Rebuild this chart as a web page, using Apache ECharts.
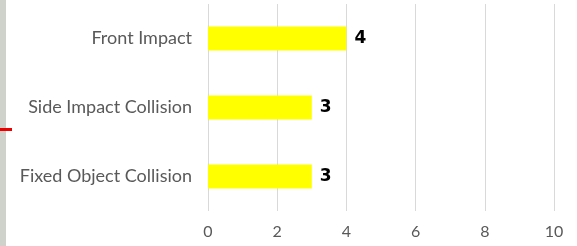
<!DOCTYPE html>
<html>
<head>
<meta charset="utf-8">
<script src="https://cdn.jsdelivr.net/npm/echarts@6/dist/echarts.min.js"></script>
<style>
html, body { margin: 0; padding: 0; background: #fff; }
#main { width: 577px; height: 246px; }
</style>
</head>
<body>
<div id="main"></div>
<script>
var categories = ['Fixed Object Collision', 'Side Impact Collision', 'Front Impact'];
var counts = [3, 3, 4];
var tickMin = 0;
var tickMax = 10;
var tickStep = 2;

var myChart = echarts.init(document.getElementById('main'));
var option = {
	animation: false,
	grid: {
		left: 208,
		right: 23,
		top: 4,
		bottom: 35
	},
	xAxis: {
		type: 'value',
		min: tickMin,
		max: tickMax,
		interval: tickStep,
		axisLine: { show: false },
		axisTick: { show: false },
		splitLine: { lineStyle: { color: '#d9d9d9', width: 1 } },
		axisLabel: {
			color: '#595959',
			fontFamily: 'Lato',
			fontSize: 16,
			margin: 13
		}
	},
	yAxis: {
		type: 'category',
		data: categories,
		axisLine: { show: false },
		axisTick: { show: false },
		axisLabel: {
			color: '#595959',
			fontFamily: 'Lato',
			fontSize: 18,
			margin: 16
		}
	},
	series: [{
		type: 'bar',
		data: counts,
		barWidth: 24,
		itemStyle: { color: '#ffff00' },
		label: {
			show: true,
			position: 'right',
			distance: 8,
			color: '#000',
			fontFamily: 'DejaVu Sans',
			fontWeight: 'bold',
			fontSize: 17
		}
	}],
	graphic: [
		{ type: 'rect', shape: { x: 0, y: 0, width: 6, height: 246 }, style: { fill: '#cfd1cb' }, silent: true },
		{ type: 'rect', shape: { x: 0, y: 128, width: 12, height: 3 }, style: { fill: '#ee0000' }, silent: true }
	]
};
myChart.setOption(option, true);
</script>
</body>
</html>
